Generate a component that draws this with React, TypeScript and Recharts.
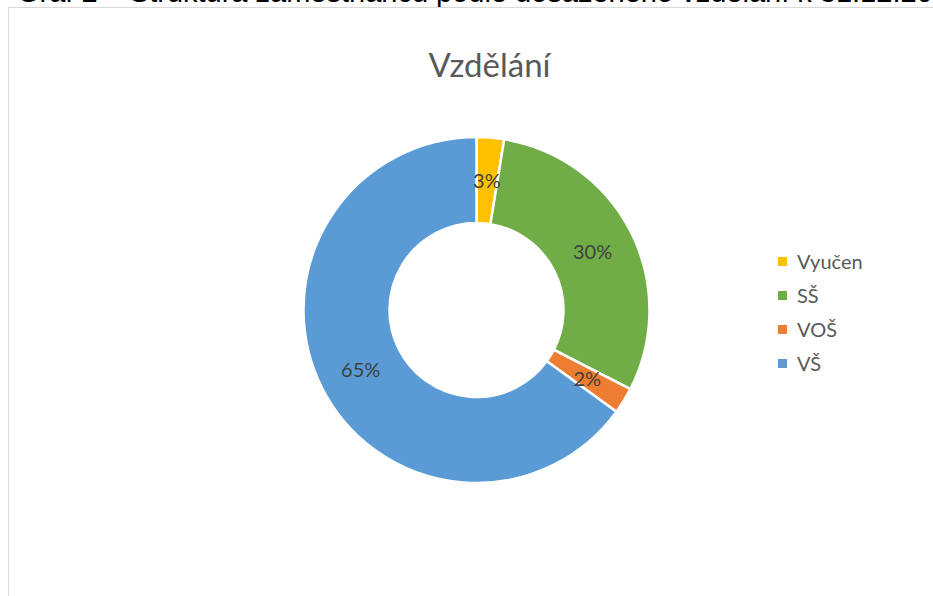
import { Cell, Legend, Pie, PieChart } from "recharts";

const categories = ["Vyučen", "SŠ", "VOŠ", "VŠ"];
const shares = [2.56, 30, 2.44, 65];
const sliceColors = ["#FFC000", "#70AD47", "#ED7D31", "#5B9BD5"];

const chartData = categories.map((name, i) => ({ name, value: shares[i] }));

const RAD = Math.PI / 180;

function renderLabel(props: any) {
  const { cx, cy, midAngle, innerRadius, outerRadius, percent } = props;
  const r = (innerRadius + outerRadius) / 2;
  const x = cx + r * Math.cos(-midAngle * RAD);
  const y = cy + r * Math.sin(-midAngle * RAD);
  return (
    <text
      x={x}
      y={y}
      fill="#404040"
      textAnchor="middle"
      dominantBaseline="central"
      fontSize={20}
      fontFamily="Lato"
    >
      {Math.round(percent * 100)}%
    </text>
  );
}

// keeps the order of the data instead of the legend's default sorting
function LegendBox() {
  return (
    <div style={{ fontFamily: "Lato", fontSize: 20, color: "#595959" }}>
      {categories.map((name, i) => (
        <div key={name} style={{ height: 34, display: "flex", alignItems: "center" }}>
          <span style={{ width: 9, height: 9, background: sliceColors[i], marginRight: 10, display: "inline-block" }} />
          <span>{name}</span>
        </div>
      ))}
    </div>
  );
}

export default function App() {
  return (
    <div style={{ position: "absolute", left: 0, top: 0, width: 933, height: 596, overflow: "hidden", background: "#fff" }}>
      <div
        style={{
          position: "absolute",
          left: 17,
          top: -24,
          whiteSpace: "nowrap",
          fontFamily: "'Liberation Sans', Arial, sans-serif",
          fontSize: 29,
          color: "#000"
        }}
      >
        Graf 2 – Struktura zaměstnanců podle dosaženého vzdělání k 31.12.2020
      </div>
      <div
        style={{
          position: "absolute",
          left: 8,
          top: 7,
          width: 1000,
          height: 700,
          border: "1px solid #d9d9d9",
          boxSizing: "border-box"
        }}
      />
      <div
        style={{
          position: "absolute",
          left: 0,
          top: 45,
          width: 979,
          textAlign: "center",
          fontFamily: "Lato",
          fontSize: 33,
          color: "#595959",
          lineHeight: "38px"
        }}
      >
        Vzdělání
      </div>
      <div style={{ position: "absolute", left: 0, top: 0 }}>
        <PieChart width={933} height={596} margin={{ top: 0, right: 0, bottom: 0, left: 0 }}>
          <Pie
            data={chartData}
            dataKey="value"
            nameKey="name"
            cx={476.5}
            cy={310}
            innerRadius={87}
            outerRadius={173}
            startAngle={90}
            endAngle={-270}
            stroke="#ffffff"
            strokeWidth={2.5}
            labelLine={false}
            label={renderLabel}
            isAnimationActive={false}
          >
            {chartData.map((d, i) => (
              <Cell key={d.name} fill={sliceColors[i]} />
            ))}
          </Pie>
          <Legend
            layout="vertical"
            align="right"
            verticalAlign="middle"
            content={<LegendBox />}
            wrapperStyle={{ left: 778, top: 244, width: 140, right: "auto", bottom: "auto" }}
          />
        </PieChart>
      </div>
    </div>
  );
}
